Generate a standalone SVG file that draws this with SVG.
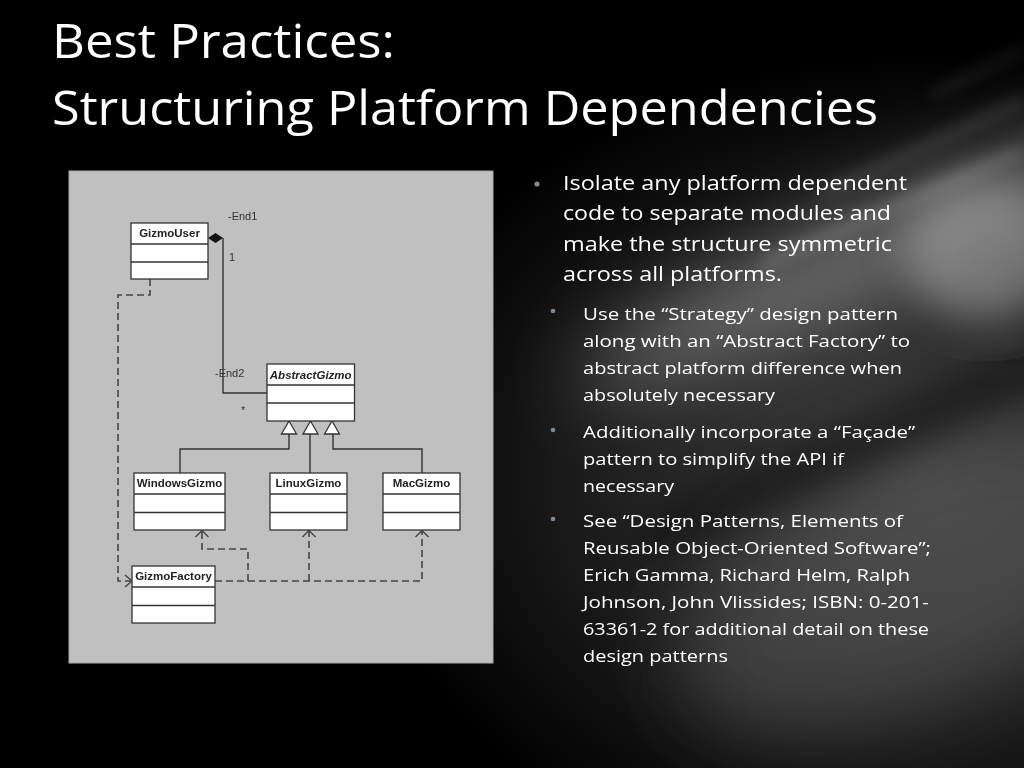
<svg xmlns="http://www.w3.org/2000/svg" width="1024" height="768" viewBox="0 0 1024 768">
<defs>
<filter id="b40" x="-50%" y="-50%" width="200%" height="200%"><feGaussianBlur stdDeviation="40"/></filter>
<filter id="b20" x="-50%" y="-50%" width="200%" height="200%"><feGaussianBlur stdDeviation="20"/></filter>
<filter id="b8" x="-50%" y="-50%" width="200%" height="200%"><feGaussianBlur stdDeviation="8"/></filter>
<radialGradient id="glow" cx="0.9" cy="0.62" r="0.55">
<stop offset="0" stop-color="#444"/>
<stop offset="0.6" stop-color="#1c1c1c"/>
<stop offset="1" stop-color="#000"/>
</radialGradient>
<style>
.cls{fill:#fff;stroke:#333;stroke-width:1.3}
.sep{stroke:#333;stroke-width:1.3}
.nm{font-family:"Liberation Sans",Arial,sans-serif;font-size:11.5px;font-weight:bold;fill:#222;text-anchor:middle}
.lb{font-family:"Liberation Sans",Arial,sans-serif;font-size:11px;fill:#333}
.solid{fill:none;stroke:#333;stroke-width:1.4}
.dash{fill:none;stroke:#444;stroke-width:1.6;stroke-dasharray:7 4}
.chev{fill:none;stroke:#444;stroke-width:1.4}
.tri{fill:#fff;stroke:#333;stroke-width:1.3}
.title{font-family:"Open Sans","Noto Sans",sans-serif;font-size:48px;fill:#fff}
.b1{font-family:"Open Sans","Noto Sans",sans-serif;font-size:19.5px;fill:#fff}
.b2{font-family:"Open Sans","Noto Sans",sans-serif;font-size:17px;fill:#fff}
</style>
</defs>
<rect width="1024" height="768" fill="#000"/>
<rect width="1024" height="768" fill="url(#glow)"/>
<g filter="url(#b40)">
<ellipse cx="880" cy="250" rx="330" ry="45" transform="rotate(-24 880 250)" fill="#9a9a9a" opacity="0.65"/>
<ellipse cx="920" cy="580" rx="260" ry="120" transform="rotate(-24 920 580)" fill="#555" opacity="0.6"/>
</g>
<g filter="url(#b20)">
<ellipse cx="985" cy="250" rx="80" ry="70" fill="#aaa" opacity="0.55"/>
<ellipse cx="870" cy="440" rx="260" ry="22" transform="rotate(-24 870 440)" fill="#000" opacity="0.55"/>
</g>
<g filter="url(#b8)" opacity="0.35">
<line x1="1024" y1="100" x2="820" y2="195" stroke="#ccc" stroke-width="5"/>
<line x1="1024" y1="150" x2="760" y2="265" stroke="#ddd" stroke-width="7"/>
<line x1="1024" y1="50" x2="930" y2="95" stroke="#aaa" stroke-width="4"/>
</g>

<g id="title">
<text class="title" x="52" y="58" textLength="343" lengthAdjust="spacingAndGlyphs">Best Practices:</text>
<text class="title" x="52" y="125" textLength="826" lengthAdjust="spacingAndGlyphs">Structuring Platform Dependencies</text>
</g>

<g id="bullets">
<circle cx="537" cy="184" r="2.6" fill="#8a8a8a"/>
<text class="b1" x="563" y="190" textLength="344" lengthAdjust="spacingAndGlyphs">Isolate any platform dependent</text>
<text class="b1" x="563" y="220" textLength="328" lengthAdjust="spacingAndGlyphs">code to separate modules and</text>
<text class="b1" x="563" y="251" textLength="329" lengthAdjust="spacingAndGlyphs">make the structure symmetric</text>
<text class="b1" x="563" y="281" textLength="219" lengthAdjust="spacingAndGlyphs">across all platforms.</text>
<circle cx="553" cy="311" r="2.3" fill="#7d8a96"/>
<text class="b2" x="583" y="320" textLength="315" lengthAdjust="spacingAndGlyphs">Use the “Strategy” design pattern</text>
<text class="b2" x="583" y="347" textLength="327" lengthAdjust="spacingAndGlyphs">along with an “Abstract Factory” to</text>
<text class="b2" x="583" y="374" textLength="319" lengthAdjust="spacingAndGlyphs">abstract platform difference when</text>
<text class="b2" x="583" y="401" textLength="192" lengthAdjust="spacingAndGlyphs">absolutely necessary</text>
<circle cx="553" cy="430" r="2.3" fill="#7d8a96"/>
<text class="b2" x="583" y="438" textLength="332" lengthAdjust="spacingAndGlyphs">Additionally incorporate a “Façade”</text>
<text class="b2" x="583" y="465" textLength="261" lengthAdjust="spacingAndGlyphs">pattern to simplify the API if</text>
<text class="b2" x="583" y="492" textLength="91" lengthAdjust="spacingAndGlyphs">necessary</text>
<circle cx="553" cy="519" r="2.3" fill="#7d8a96"/>
<text class="b2" x="583" y="527" textLength="320" lengthAdjust="spacingAndGlyphs">See “Design Patterns, Elements of</text>
<text class="b2" x="583" y="554" textLength="348" lengthAdjust="spacingAndGlyphs">Reusable Object-Oriented Software”;</text>
<text class="b2" x="583" y="581" textLength="327" lengthAdjust="spacingAndGlyphs">Erich Gamma, Richard Helm, Ralph</text>
<text class="b2" x="583" y="608" textLength="346" lengthAdjust="spacingAndGlyphs">Johnson, John Vlissides; ISBN: 0-201-</text>
<text class="b2" x="583" y="635" textLength="346" lengthAdjust="spacingAndGlyphs">63361-2 for additional detail on these</text>
<text class="b2" x="583" y="662" textLength="145" lengthAdjust="spacingAndGlyphs">design patterns</text>
</g>

<rect id="panel" x="69" y="171" width="424" height="492" fill="#c0c0c0" stroke="#aaa" stroke-width="1"/>

<g id="connectors">
<path class="solid" d="M223 238 V393 H267"/>
<path class="solid" d="M289 434 V449 H180 V473"/>
<path class="solid" d="M310 434 V473"/>
<path class="solid" d="M333 434 V449 H422 V473"/>
<path class="tri" d="M289 421 L281.5 434 L296.5 434 Z"/>
<path class="tri" d="M310.5 421 L303 434 L318 434 Z"/>
<path class="tri" d="M332 421 L324.5 434 L339.5 434 Z"/>
<path d="M208 238 L215.5 233 L223 238 L215.5 243 Z" fill="#111"/>
<path class="dash" d="M150 279 V295 H118 V581 H131"/>
<path class="chev" d="M125 575 L132 581 L125 587"/>
<path class="dash" d="M215 581 H422 V531"/>
<path class="dash" d="M309 581 V531"/>
<path class="dash" d="M248 581 V549 H202 V531"/>
<path class="chev" d="M195.5 537 L202 530.5 L208.5 537"/>
<path class="chev" d="M302.5 537 L309 530.5 L315.5 537"/>
<path class="chev" d="M415.5 537 L422 530.5 L428.5 537"/>
<text class="lb" x="228" y="220">-End1</text>
<text class="lb" x="229" y="261">1</text>
<text class="lb" x="215" y="377">-End2</text>
<text class="lb" x="241" y="414">*</text>
</g>

<g id="GizmoUser">
<rect class="cls" x="131" y="223" width="77" height="56"/>
<line class="sep" x1="131" y1="244" x2="208" y2="244"/>
<line class="sep" x1="131" y1="262" x2="208" y2="262"/>
<text class="nm" x="169.5" y="237">GizmoUser</text>
</g>
<g id="AbstractGizmo">
<rect class="cls" x="267" y="364" width="87.5" height="57"/>
<line class="sep" x1="267" y1="385" x2="354.5" y2="385"/>
<line class="sep" x1="267" y1="403" x2="354.5" y2="403"/>
<text class="nm" x="310.7" y="378.5" font-style="italic">AbstractGizmo</text>
</g>
<g id="WindowsGizmo">
<rect class="cls" x="134" y="473" width="91" height="57"/>
<line class="sep" x1="134" y1="494" x2="225" y2="494"/>
<line class="sep" x1="134" y1="512.5" x2="225" y2="512.5"/>
<text class="nm" x="179.5" y="487">WindowsGizmo</text>
</g>
<g id="LinuxGizmo">
<rect class="cls" x="270" y="473" width="77" height="57"/>
<line class="sep" x1="270" y1="494" x2="347" y2="494"/>
<line class="sep" x1="270" y1="512.5" x2="347" y2="512.5"/>
<text class="nm" x="308.5" y="487">LinuxGizmo</text>
</g>
<g id="MacGizmo">
<rect class="cls" x="383" y="473" width="77" height="57"/>
<line class="sep" x1="383" y1="494" x2="460" y2="494"/>
<line class="sep" x1="383" y1="512.5" x2="460" y2="512.5"/>
<text class="nm" x="421.5" y="487">MacGizmo</text>
</g>
<g id="GizmoFactory">
<rect class="cls" x="132" y="566" width="83" height="57"/>
<line class="sep" x1="132" y1="587" x2="215" y2="587"/>
<line class="sep" x1="132" y1="605.5" x2="215" y2="605.5"/>
<text class="nm" x="173.5" y="580">GizmoFactory</text>
</g>
</svg>
